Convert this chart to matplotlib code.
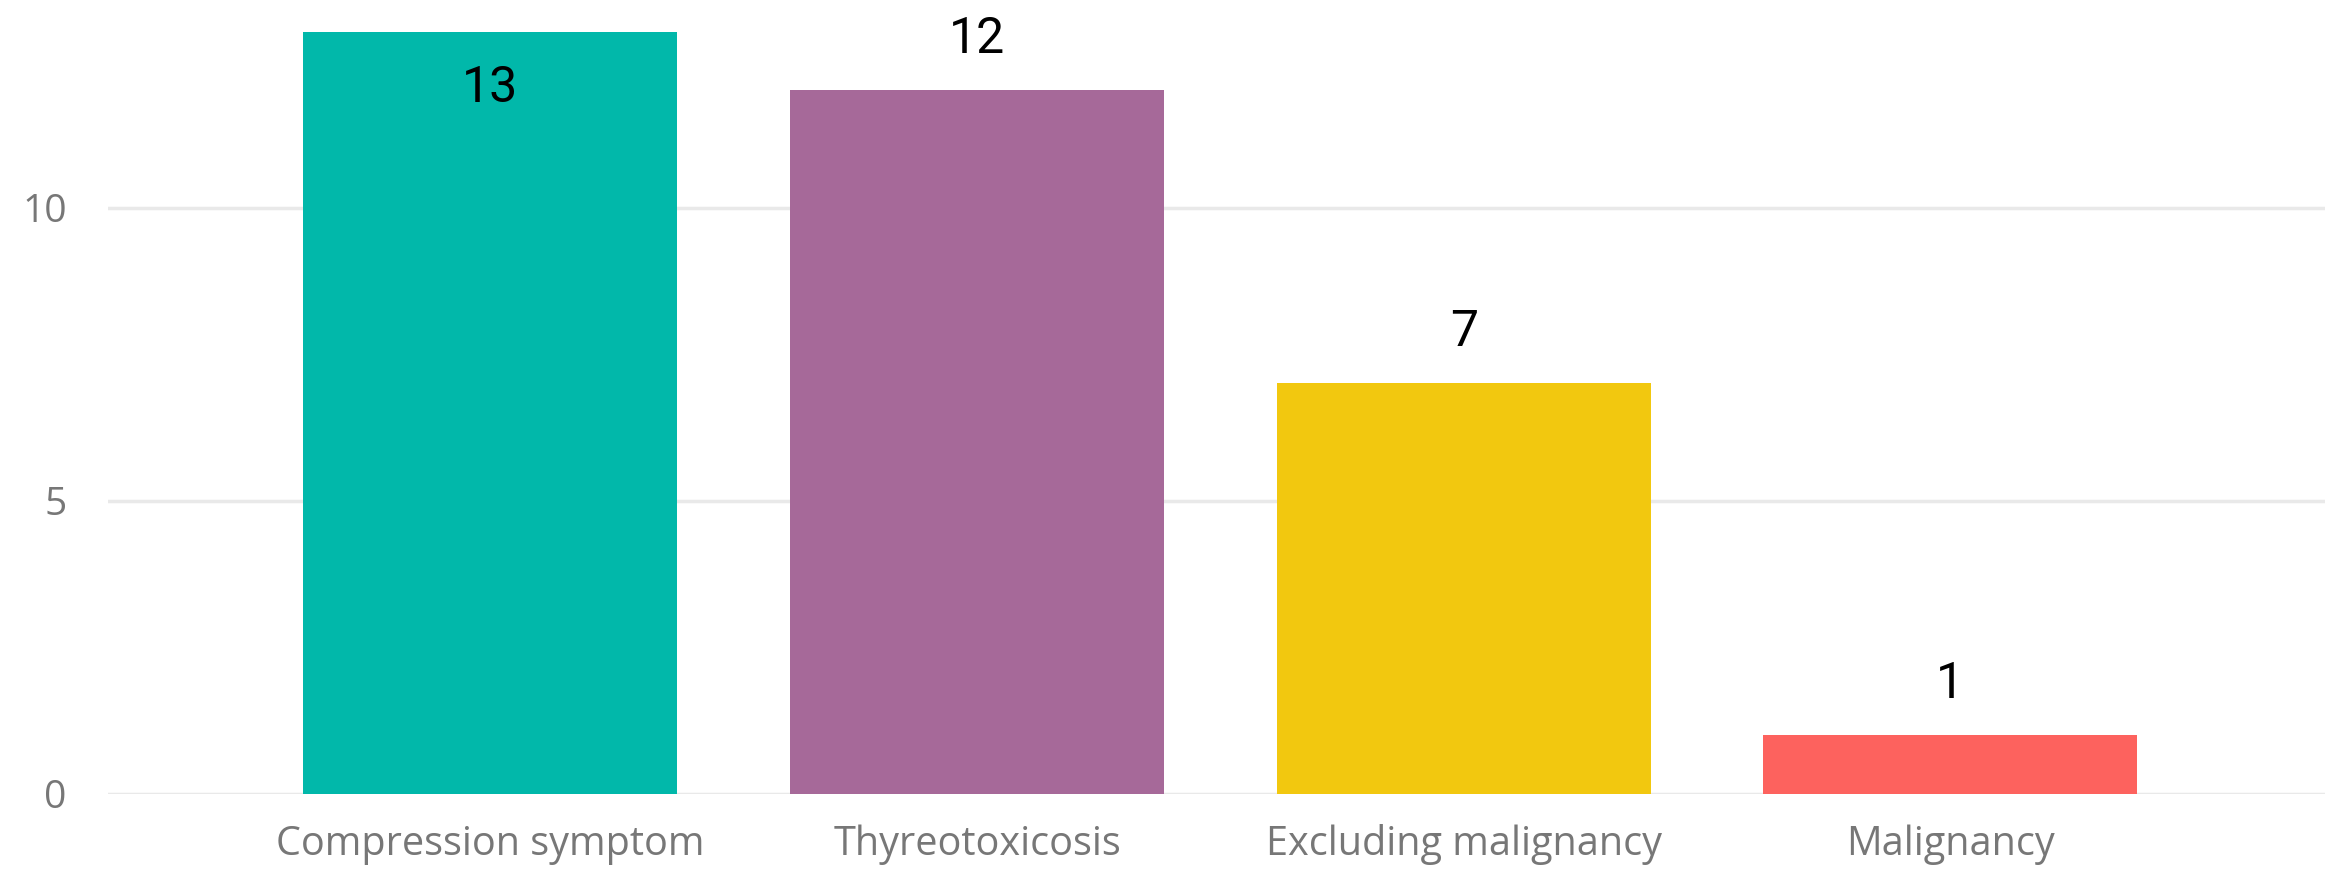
import matplotlib
matplotlib.use("Agg")
import matplotlib.pyplot as plt

categories = ["Compression symptom", "Thyreotoxicosis", "Excluding malignancy", "Malignancy"]
counts = [13, 12, 7, 1]
colors = ["#01B8AA", "#A66999", "#F2C80F", "#FD625E"]
yticks = [0, 5, 10]

fig = plt.figure(figsize=(23.25, 8.71), dpi=100)
ax = fig.add_axes([0.0466, 0.0886, 0.9534, 0.9114])

x = range(len(categories))
ax.bar(x, counts, width=0.768, color=colors, zorder=3)

ax.set_xlim(-0.785, 3.77)
ax.set_ylim(0, 13.54)
ax.set_yticks(yticks)
ax.grid(axis="y", color="#E9E9E9", linewidth=2.5, zorder=0)
for s in ax.spines.values():
    s.set_visible(False)
ax.tick_params(axis="both", length=0, colors="#777777", labelsize=28)
ax.tick_params(axis="y", pad=30)
ax.tick_params(axis="x", pad=22)
ax.set_xticks(list(x))
ax.set_xticklabels(categories, fontfamily=["Open Sans", "DejaVu Sans"], fontsize=28.5)
for t in ax.get_yticklabels():
    t.set_fontfamily(["Open Sans", "DejaVu Sans"])

# etiquetas de valor
for i, v in enumerate(counts):
    if v > 12.5:
        ax.text(i, v - 0.96, str(v), ha="center", va="center", fontsize=36,
                fontfamily=["Roboto", "DejaVu Sans"], color="black")
    else:
        ax.text(i, v + 0.88, str(v), ha="center", va="center", fontsize=36,
                fontfamily=["Roboto", "DejaVu Sans"], color="black")

fig.savefig("out.png", dpi=100)
